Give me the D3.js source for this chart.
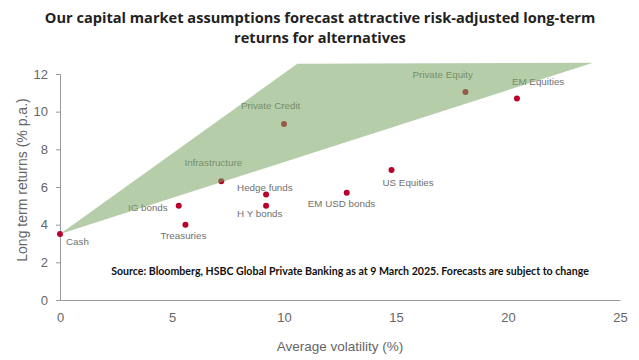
<!DOCTYPE html>
<html><head><meta charset="utf-8">
<script src="https://cdn.jsdelivr.net/npm/d3@7"></script>
<style>body{margin:0;background:#fff;}svg{display:block;}</style>
</head><body><svg id="c" width="639" height="360"></svg>
<script>
const assets = ["Cash","IG bonds","Treasuries","Infrastructure","Hedge funds","H Y bonds","Private Credit","EM USD bonds","US Equities","Private Equity","EM Equities"];
const volatility = [0, 5.3, 5.6, 7.2, 9.2, 9.2, 10.0, 12.8, 14.8, 18.1, 20.4];
const returns = [3.5, 5.0, 4.0, 6.3, 5.6, 5.0, 9.35, 5.7, 6.9, 11.05, 10.7];
const bandVol = [0, 10.6, 23.8];
const bandRet = [3.5, 12.55, 12.6];
const xTicks = [0, 5, 10, 15, 20, 25];
const yTicks = [0, 2, 4, 6, 8, 10, 12];

const svg = d3.select("#c");
const x = d3.scaleLinear().domain([0, 25]).range([60, 620]);
const y = d3.scaleLinear().domain([0, 12]).range([300, 74]);

svg.append("text").attr("x", 320).attr("y", 23).attr("text-anchor", "middle")
  .attr("font-family", "Open Sans").attr("font-weight", "bold").attr("font-size", 14.6).attr("fill", "#222")
  .text("Our capital market assumptions forecast attractive risk-adjusted long-term");
svg.append("text").attr("x", 320).attr("y", 43).attr("text-anchor", "middle")
  .attr("font-family", "Open Sans").attr("font-weight", "bold").attr("font-size", 14.6).attr("fill", "#222")
  .text("returns for alternatives");

// axes
const yAxis = svg.append("g").attr("transform", "translate(60,0)")
  .call(d3.axisLeft(y).tickValues(yTicks).tickSize(4).tickPadding(8));
yAxis.select(".domain").attr("stroke", "#999");
yAxis.selectAll(".tick line").attr("stroke", "#999");
yAxis.selectAll("text").attr("font-family", "Liberation Sans").attr("font-size", 13).attr("fill", "#666");

const xAxis = svg.append("g").attr("transform", "translate(0,300)")
  .call(d3.axisBottom(x).tickValues(xTicks).tickSize(0).tickPadding(13));
xAxis.select(".domain").attr("stroke", "#999");
xAxis.selectAll("text").attr("font-family", "Liberation Sans").attr("font-size", 13).attr("fill", "#666");

svg.append("text").attr("x", 340).attr("y", 351).attr("text-anchor", "middle")
  .attr("font-family", "Liberation Sans").attr("font-size", 13.5).attr("fill", "#666").text("Average volatility (%)");
svg.append("text").attr("transform", "translate(27,180) rotate(-90)").attr("text-anchor", "middle")
  .attr("font-family", "Liberation Sans").attr("font-size", 14).attr("fill", "#666").text("Long term returns (% p.a.)");

// points
const data = assets.map((a, i) => ({a, v: volatility[i], r: returns[i]}));
svg.append("g").selectAll("circle").data(data).join("circle")
  .attr("cx", d => x(d.v)).attr("cy", d => y(d.r)).attr("r", 3).attr("fill", "#b8002a");

const labelPos = {
  "Cash": [6, 11, "start"],
  "IG bonds": [-11, 5, "end"],
  "Treasuries": [-2, 14, "middle"],
  "Infrastructure": [-8, -15, "middle"],
  "Hedge funds": [-29, -4, "start"],
  "H Y bonds": [-29, 11, "start"],
  "Private Credit": [-43, -15, "start"],
  "EM USD bonds": [-39, 14, "start"],
  "US Equities": [-9, 16, "start"],
  "Private Equity": [-53, -14, "start"],
  "EM Equities": [-5, -13, "start"]
};
svg.append("g").selectAll("text").data(data).join("text")
  .attr("x", d => x(d.v) + labelPos[d.a][0]).attr("y", d => y(d.r) + labelPos[d.a][1])
  .attr("text-anchor", d => labelPos[d.a][2])
  .attr("font-family", "Liberation Sans").attr("font-size", 9.8).attr("fill", "#707070").text(d => d.a);

// band drawn on top, translucent
const band = bandVol.map((v, i) => [x(v), y(bandRet[i])]);
svg.append("path").attr("d", d3.line()(band) + "Z")
  .attr("fill", "rgb(120,165,98)").attr("fill-opacity", 0.55);

svg.append("text").attr("x", 350).attr("y", 275).attr("text-anchor", "middle")
  .attr("font-family", "Lato").attr("font-weight", "bold").attr("font-size", 10.6).attr("fill", "#111")
  .text("Source: Bloomberg, HSBC Global Private Banking as at 9 March 2025. Forecasts are subject to change");
</script></body></html>
